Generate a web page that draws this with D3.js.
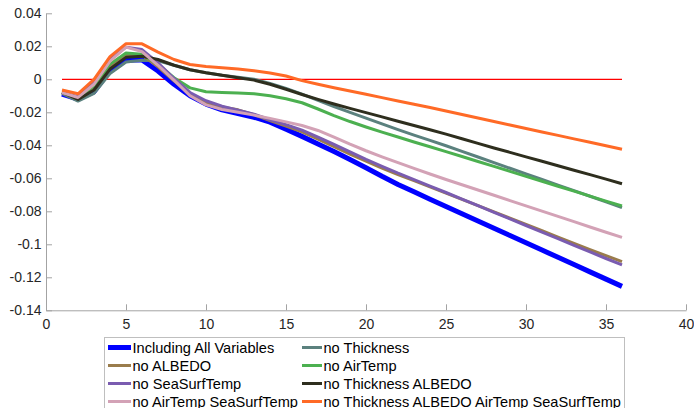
<!DOCTYPE html>
<html>
<head>
<meta charset="utf-8">
<script src="https://cdn.jsdelivr.net/npm/d3@7"></script>
<style>
  html, body { margin: 0; padding: 0; background: #fff; }
  svg { display: block; font-family: "Liberation Sans", Arial, Helvetica, sans-serif; }
</style>
</head>
<body>
<svg id="chart" width="694" height="408"></svg>
<script>
// Lead time steps 1..36
const steps = d3.range(1, 37);

const allVars = [-0.0090, -0.0120, -0.0075, 0.0055, 0.0115, 0.0118, 0.0050, -0.0030, -0.0100, -0.0150, -0.0185, -0.0208, -0.0230, -0.0260, -0.0302, -0.0346, -0.0392, -0.0438, -0.0486, -0.0536, -0.0588, -0.0637, -0.0682, -0.0727, -0.0771, -0.0815, -0.0859, -0.0903, -0.0947, -0.0991, -0.1035, -0.1079, -0.1123, -0.1167, -0.1211, -0.1255];
const noThickness = [-0.0085, -0.0132, -0.0085, 0.0035, 0.0105, 0.0115, 0.0112, 0.0085, 0.0058, 0.0040, 0.0025, 0.0013, 0.0000, -0.0025, -0.0055, -0.0090, -0.0128, -0.0165, -0.0200, -0.0235, -0.0270, -0.0305, -0.0338, -0.0370, -0.0403, -0.0437, -0.0471, -0.0505, -0.0539, -0.0573, -0.0607, -0.0641, -0.0675, -0.0709, -0.0743, -0.0778];
const noAlbedo = [-0.0080, -0.0115, -0.0050, 0.0075, 0.0148, 0.0148, 0.0075, -0.0010, -0.0090, -0.0140, -0.0168, -0.0185, -0.0215, -0.0250, -0.0283, -0.0318, -0.0362, -0.0408, -0.0453, -0.0496, -0.0538, -0.0577, -0.0614, -0.0652, -0.0690, -0.0728, -0.0766, -0.0804, -0.0842, -0.0880, -0.0918, -0.0956, -0.0994, -0.1032, -0.1069, -0.1105];
const noAirTemp = [-0.0080, -0.0115, -0.0040, 0.0092, 0.0160, 0.0152, 0.0090, 0.0010, -0.0052, -0.0075, -0.0080, -0.0083, -0.0088, -0.0100, -0.0118, -0.0142, -0.0180, -0.0220, -0.0256, -0.0289, -0.0320, -0.0350, -0.0380, -0.0409, -0.0438, -0.0468, -0.0498, -0.0528, -0.0558, -0.0588, -0.0618, -0.0648, -0.0678, -0.0708, -0.0738, -0.0768];
const noSeaSurfTemp = [-0.0080, -0.0105, -0.0020, 0.0120, 0.0195, 0.0180, 0.0100, 0.0005, -0.0080, -0.0130, -0.0163, -0.0188, -0.0212, -0.0245, -0.0275, -0.0308, -0.0350, -0.0395, -0.0440, -0.0485, -0.0527, -0.0569, -0.0608, -0.0647, -0.0686, -0.0726, -0.0766, -0.0806, -0.0846, -0.0886, -0.0926, -0.0966, -0.1006, -0.1046, -0.1086, -0.1125];
const noThicknessAlbedo = [-0.0078, -0.0122, -0.0065, 0.0062, 0.0133, 0.0140, 0.0120, 0.0085, 0.0058, 0.0040, 0.0025, 0.0010, -0.0005, -0.0030, -0.0060, -0.0092, -0.0122, -0.0150, -0.0176, -0.0202, -0.0228, -0.0254, -0.0280, -0.0306, -0.0332, -0.0360, -0.0388, -0.0416, -0.0443, -0.0470, -0.0497, -0.0524, -0.0551, -0.0578, -0.0605, -0.0633];
const noAirTempSST = [-0.0080, -0.0110, -0.0030, 0.0110, 0.0195, 0.0168, 0.0085, -0.0005, -0.0100, -0.0155, -0.0183, -0.0200, -0.0217, -0.0237, -0.0258, -0.0280, -0.0310, -0.0350, -0.0393, -0.0433, -0.0470, -0.0505, -0.0540, -0.0574, -0.0607, -0.0639, -0.0671, -0.0703, -0.0735, -0.0767, -0.0799, -0.0831, -0.0863, -0.0895, -0.0927, -0.0958];
const noFour = [-0.0065, -0.0088, 0.0000, 0.0137, 0.0216, 0.0215, 0.0165, 0.0120, 0.0090, 0.0077, 0.0070, 0.0063, 0.0052, 0.0038, 0.0020, -0.0008, -0.0030, -0.0051, -0.0071, -0.0091, -0.0111, -0.0131, -0.0151, -0.0171, -0.0192, -0.0213, -0.0235, -0.0256, -0.0277, -0.0298, -0.0319, -0.0340, -0.0361, -0.0382, -0.0403, -0.0424];

// Series in plotting order (later ones are drawn on top)
const seriesNames = ["Including All Variables", "no Thickness", "no ALBEDO", "no AirTemp",
  "no SeaSurfTemp", "no Thickness ALBEDO", "no AirTemp SeaSurfTemp", "no Thickness ALBEDO AirTemp SeaSurfTemp"];
const seriesValues = [allVars, noThickness, noAlbedo, noAirTemp, noSeaSurfTemp, noThicknessAlbedo, noAirTempSST, noFour];
const seriesColors = ["#0000ff", "#5b817e", "#9a7c4c", "#4cb050", "#7a5cb0", "#2e2e1e", "#d3a2b6", "#ff6a26"];
const seriesWidths = [5, 3, 3, 3, 3, 3, 3, 3];

const xTicks = [0, 5, 10, 15, 20, 25, 30, 35, 40];
const yTicks = [0.04, 0.02, 0, -0.02, -0.04, -0.06, -0.08, -0.1, -0.12, -0.14];

const svg = d3.select("#chart");
const x = d3.scaleLinear().domain([0, 40]).range([46, 686]);
const y = d3.scaleLinear().domain([-0.14, 0.04]).range([310.3, 13.3]);

const fmt = d => String(+d.toFixed(2));

// Axes
const axisColor = "#a3a3a3";
const gx = svg.append("g").attr("transform", `translate(0,${y(-0.14)})`)
  .call(d3.axisBottom(x).tickValues(xTicks).tickFormat(fmt).tickSizeInner(-6).tickSizeOuter(0).tickPadding(8.5));
const gy = svg.append("g").attr("transform", `translate(${x(0)},0)`)
  .call(d3.axisLeft(y).tickValues(yTicks).tickFormat(fmt).tickSizeInner(-6).tickSizeOuter(0).tickPadding(4.5));
[gx, gy].forEach(g => {
  g.select(".domain").attr("stroke", axisColor);
  g.selectAll(".tick line").attr("stroke", axisColor);
  g.selectAll(".tick text").attr("fill", "#262626").style("font-size", "14px")
    .style("font-family", "'Liberation Sans', Arial, Helvetica, sans-serif");
});

// Zero reference line
svg.append("line")
  .attr("x1", x(1)).attr("x2", x(36))
  .attr("y1", y(0)).attr("y2", y(0))
  .attr("stroke", "#ff0000").attr("stroke-width", 1.2);

const line = d3.line().x((d, i) => x(steps[i])).y(d => y(d));

svg.append("g").selectAll("path")
  .data(seriesValues)
  .join("path")
  .attr("d", d => line(d))
  .attr("fill", "none")
  .attr("stroke", (d, i) => seriesColors[i])
  .attr("stroke-width", (d, i) => seriesWidths[i])
  .attr("stroke-linejoin", "round");

// Legend: two columns, filled row by row
const legend = svg.append("g");
legend.append("rect")
  .attr("x", 104.5).attr("y", 337.5).attr("width", 520).attr("height", 90)
  .attr("fill", "#fff").attr("stroke", "#bfbfbf").attr("stroke-width", 1);

const colX = [108, 302];
const sampleLen = [23, 20];
const rowY = [347.5, 365.5, 383.5, 401.5];
seriesNames.forEach((name, i) => {
  const col = i % 2, row = Math.floor(i / 2);
  const g = legend.append("g");
  g.append("line")
    .attr("x1", colX[col]).attr("x2", colX[col] + sampleLen[col])
    .attr("y1", rowY[row]).attr("y2", rowY[row])
    .attr("stroke", seriesColors[i]).attr("stroke-width", seriesWidths[i]);
  g.append("text")
    .attr("x", colX[col] + sampleLen[col] + 1.5).attr("y", rowY[row])
    .attr("dy", "0.35em")
    .attr("fill", "#000")
    .style("font-size", "14.6px")
    .text(name);
});
</script>
</body>
</html>
